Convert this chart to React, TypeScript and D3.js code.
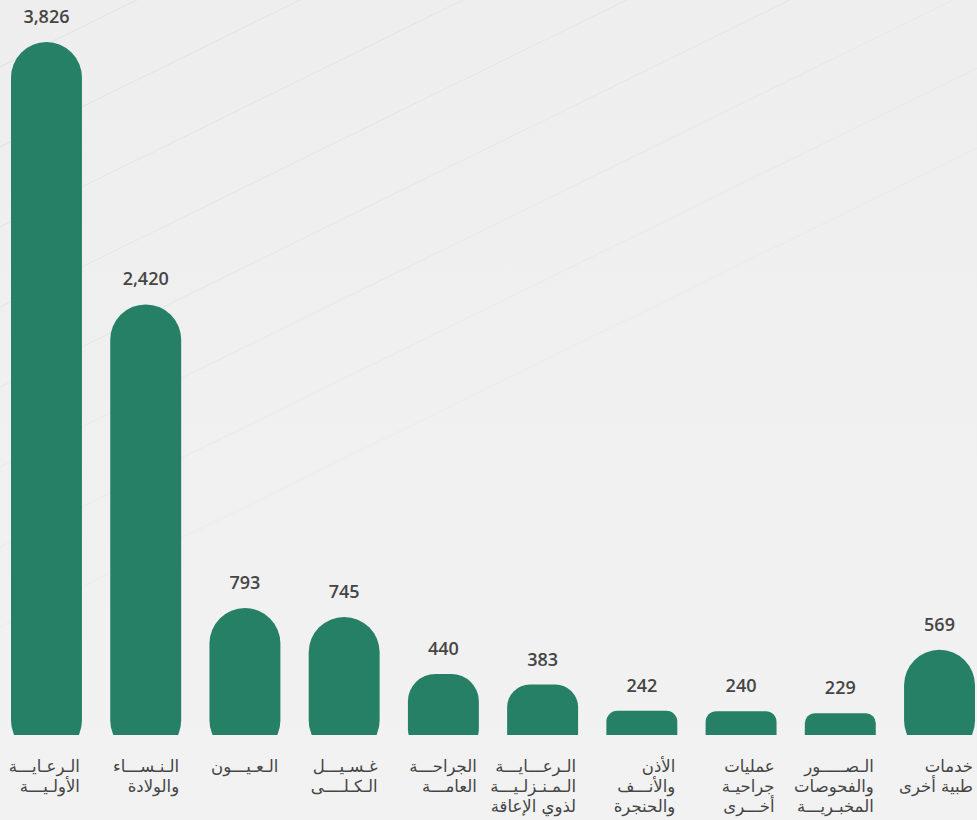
import { useEffect, useRef } from 'react';
import * as d3 from 'd3';

const categories = [
  'primary',
  'obgyn',
  'eyes',
  'dialysis',
  'surgery',
  'homecare',
  'ent',
  'otherOps',
  'imaging',
  'otherServices',
];

const values = [3826, 2420, 793, 745, 440, 383, 242, 240, 229, 569];

const labelLines = [
  ['الـرعـايـــة', 'الأولـيـــة'],
  ['الـنـســـاء', 'والولادة'],
  ['الـعـيـــون'],
  ['غـسـيـــل', 'الـكـلــــى'],
  ['الجراحـــة', 'العامـــة'],
  ['الـرعـــايـــة', 'الـمـنـزلـيـــة', 'لذوي الإعاقة'],
  ['الأذن', 'والأنـــف', 'والحنجرة'],
  ['عمليات', 'جراحيـة', 'أخـــرى'],
  ['الـصـــــور', 'والفحوصات', 'المخبـريـــة'],
  ['خدمات', 'طبية أخرى'],
];

const W = 977;
const H = 820;

export default function App() {
  const svgRef = useRef<SVGSVGElement>(null);

  useEffect(() => {
    if (!svgRef.current) return;
    const svg = d3.select(svgRef.current);
    svg.selectAll('*').remove();

    const floorY = 735; // bars are cut off here
    const x = d3.scaleBand().domain(categories).range([11, 975]).paddingInner(0.285).paddingOuter(0);
    const y = d3.scaleLinear().domain([0, 3826]).range([756, 42]);

    // background
    const defs = svg.append('defs');
    const grad = defs.append('linearGradient').attr('id', 'bg').attr('x1', 0).attr('y1', 0).attr('x2', 0).attr('y2', 1);
    grad.append('stop').attr('offset', '0%').attr('stop-color', '#eeeeee');
    grad.append('stop').attr('offset', '100%').attr('stop-color', '#f2f2f2');
    defs.append('clipPath').attr('id', 'floor').append('rect').attr('x', 0).attr('y', 0).attr('width', W).attr('height', floorY);

    svg.append('rect').attr('width', W).attr('height', H).attr('fill', 'url(#bg)');

    // faint diagonal lines in the background
    const offsets = d3.range(8).map((i) => 67 + i * 80);
    const slope = 0.49;
    svg
      .append('g')
      .selectAll('line')
      .data(offsets)
      .join('line')
      .attr('x1', 0)
      .attr('y1', (c) => c)
      .attr('x2', W)
      .attr('y2', (c) => c - slope * W)
      .attr('stroke', '#e0e0e0')
      .attr('stroke-width', 1)
      .attr('opacity', (_, i) => 0.9 - i * 0.09);

    const data = categories.map((c, i) => ({ key: c, value: values[i], lines: labelLines[i] }));

    svg
      .append('g')
      .attr('clip-path', 'url(#floor)')
      .selectAll('rect')
      .data(data)
      .join('rect')
      .attr('x', (d) => x(d.key) ?? 0)
      .attr('y', (d) => y(d.value))
      .attr('width', x.bandwidth())
      .attr('height', (d) => y(0) - y(d.value))
      .attr('rx', (d) => Math.min(x.bandwidth() / 2, (floorY - y(d.value)) * 0.45))
      .attr('fill', '#268066');

    svg
      .append('g')
      .selectAll('text')
      .data(data)
      .join('text')
      .attr('x', (d) => (x(d.key) ?? 0) + x.bandwidth() / 2)
      .attr('y', (d) => y(d.value) - 19)
      .attr('text-anchor', 'middle')
      .attr('font-family', '"Open Sans", "Noto Sans", sans-serif')
      .attr('font-weight', 600)
      .attr('font-size', '18px')
      .attr('fill', '#454545')
      .text((d) => d3.format(',')(d.value));

    const lbl = svg
      .append('g')
      .selectAll('text')
      .data(data)
      .join('text')
      .attr('y', 772)
      .attr('text-anchor', 'end')
      .attr('font-family', '"DejaVu Sans", sans-serif')
      .attr('font-size', '16.5px')
      .attr('fill', '#444');

    lbl
      .selectAll('tspan')
      .data((d) => d.lines.map((t) => ({ t, x: (x(d.key) ?? 0) + x.bandwidth() - 2 })))
      .join('tspan')
      .attr('x', (d) => d.x)
      .attr('dy', (_, i) => (i === 0 ? 0 : 20))
      .text((d) => d.t);
  }, []);

  return (
    <svg
      ref={svgRef}
      width={W}
      height={H}
      viewBox={`0 0 ${W} ${H}`}
      style={{ position: 'absolute', left: 0, top: 0, display: 'block' }}
    />
  );
}
